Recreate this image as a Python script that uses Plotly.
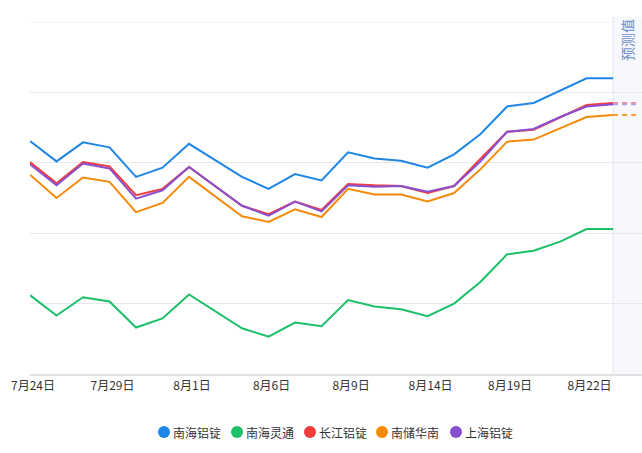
import plotly.graph_objects as go

# ---- data ----
dates = ["7月24日", "7月25日", "7月26日", "7月29日", "7月30日", "7月31日",
         "8月1日", "8月2日", "8月5日", "8月6日", "8月7日", "8月8日",
         "8月9日", "8月12日", "8月13日", "8月14日", "8月15日", "8月16日",
         "8月19日", "8月20日", "8月21日", "8月22日", "8月23日"]
forecast_date = "8月26日"

tick_labels = ["7月24日", "7月29日", "8月1日", "8月6日", "8月9日", "8月14日", "8月19日", "8月22日"]

nanhai = [19631, 19602, 19629, 19622, 19580, 19593, 19627, 19604, 19580, 19563, 19584, 19575,
          19615, 19606, 19603, 19593, 19612, 19641, 19680, 19685, 19703, 19720, 19720]
lingtong = [19412, 19383, 19409, 19403, 19366, 19379, 19413, 19389, 19365, 19353, 19373, 19368,
            19405, 19396, 19392, 19382, 19400, 19431, 19470, 19475, 19488, 19506, 19506]
changjiang = [19601, 19571, 19601, 19595, 19554, 19563, 19594, 19567, 19539, 19527, 19545, 19533,
              19570, 19568, 19567, 19557, 19567, 19606, 19644, 19647, 19665, 19682, 19685]
nanchu = [19583, 19550, 19579, 19573, 19530, 19543, 19580, 19552, 19524, 19516, 19534, 19523,
          19563, 19555, 19555, 19545, 19557, 19591, 19630, 19633, 19649, 19665, 19668]
shanghai = [19598, 19568, 19599, 19592, 19549, 19561, 19594, 19567, 19539, 19525, 19545, 19531,
            19568, 19566, 19567, 19559, 19567, 19602, 19644, 19648, 19665, 19680, 19683]

# forecast values (last actual day -> forecast day)
changjiang_fc = [19685, 19685]
nanchu_fc = [19668, 19668]
shanghai_fc = [19683, 19683]

names = ["南海铝锭", "南海灵通", "长江铝锭", "南储华南", "上海铝锭"]
colors = ["#1f86e6", "#1cbf6a", "#f23b3b", "#f58a0a", "#8a4fd0"]
series = [nanhai, lingtong, changjiang, nanchu, shanghai]

all_cats = dates + [forecast_date]

fig = go.Figure()

for name, col, vals in zip(names, colors, series):
    fig.add_trace(go.Scatter(x=dates, y=vals, mode="lines", name=name,
                             line=dict(color=col, width=2), showlegend=False,
                             hoverinfo="skip"))

fc_x = [dates[-1], forecast_date]
fig.add_trace(go.Scatter(x=fc_x, y=changjiang_fc, mode="lines", showlegend=False,
                         line=dict(color="#f48a8c", width=2, dash="5px,4px")))
fig.add_trace(go.Scatter(x=fc_x, y=shanghai_fc, mode="lines", showlegend=False,
                         line=dict(color="#b9a0e8", width=2, dash="5px,4px")))
fig.add_trace(go.Scatter(x=fc_x, y=nanchu_fc, mode="lines", showlegend=False,
                         line=dict(color="#f5a03a", width=2, dash="5px,4px")))

# ---- legend (circle + text), laid out horizontally under the chart ----
W = 642
L = 30
PW = W - L
legend_dot_px = [164, 237, 310, 382, 456]
legend_y = -0.165
for name, col, px in zip(names, colors, legend_dot_px):
    xp = (px - L) / PW
    fig.add_shape(type="circle", xref="paper", yref="paper",
                  xsizemode="pixel", ysizemode="pixel",
                  xanchor=xp, yanchor=legend_y, x0=-6, x1=6, y0=-6, y1=6,
                  fillcolor=col, line=dict(width=0))
    fig.add_annotation(xref="paper", yref="paper", x=xp, y=legend_y,
                       xanchor="left", yanchor="middle", xshift=7,
                       text=name, showarrow=False,
                       font=dict(size=12, color="#333333"))

# top gridline
fig.add_shape(type="line", xref="paper", yref="y", x0=0, x1=1, y0=19800, y1=19800,
              line=dict(color="#e8e8e8", width=1), layer="below")

# forecast region shading
fig.add_shape(type="rect", xref="x", yref="paper", x0=22, x1=23.2, y0=0, y1=1.015,
              fillcolor="#f6f8fc", line=dict(width=0), layer="below")
fig.add_shape(type="line", xref="x", yref="paper", x0=22, x1=22, y0=0, y1=1.015,
              line=dict(color="#dde3ee", width=1), layer="below")
fig.add_annotation(x=22.52, xref="x", y=(374 - 40) / 352, yref="paper", yanchor="middle",
                   text="预测值", textangle=-90, showarrow=False,
                   font=dict(size=14, color="#6f8fc7"))

fig.update_layout(
    width=642, height=453,
    margin=dict(l=30, r=0, t=22, b=79),
    paper_bgcolor="white", plot_bgcolor="white",
    font=dict(family="Noto Sans CJK SC, sans-serif", size=12, color="#333333"),
    showlegend=False,
    xaxis=dict(type="category", categoryorder="array", categoryarray=all_cats,
               range=[0, 23.09], tickmode="array",
               tickvals=tick_labels, ticktext=tick_labels, ticklabelshift=3,
               showgrid=False, showline=True, linecolor="#e0e0e0", linewidth=2,
               ticks="", tickfont=dict(size=12, color="#333333"), zeroline=False),
    yaxis=dict(range=[19300, 19800], dtick=100, tick0=19300, showticklabels=False,
               showgrid=True, gridcolor="#e8e8e8", gridwidth=1, zeroline=False,
               showline=False, ticks=""),
)

fig.write_html("out.html")
